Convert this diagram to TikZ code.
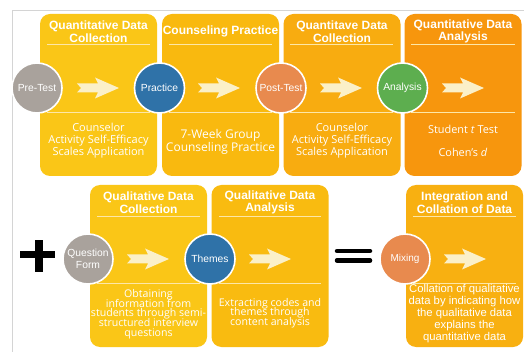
\documentclass[tikz,border=0pt]{standalone}
\usepackage{fontspec}
\setmainfont{Liberation Sans}
\newfontfamily\bodyfont{Open Sans}
\newcommand\denselines{\lineskiplimit-100pt\relax\lineskip0pt\relax}
\definecolor{frame}{HTML}{D4D4D4}
\definecolor{boxA}{HTML}{FAC617}
\definecolor{boxB}{HTML}{F9B90F}
\definecolor{boxC}{HTML}{F8AC10}
\definecolor{boxD}{HTML}{F7960D}
\definecolor{boxE}{HTML}{F9BB10}
\definecolor{boxF}{HTML}{F8B011}
\definecolor{divline}{HTML}{FDE7A8}
\definecolor{arrowfill}{HTML}{FBF0C8}
\definecolor{cgray}{HTML}{A9A29C}
\definecolor{cblue}{HTML}{2F72A8}
\definecolor{corange}{HTML}{E88A4E}
\definecolor{cgreen}{HTML}{5DAE4F}
\tikzset{
  panel/.style={rounded corners=10pt, minimum width=117pt, minimum height=162pt, inner sep=0pt},
  ptitle/.style={text=white, align=center, font=\bfseries\fontsize{12}{12.5}\selectfont, inner sep=0pt},
  divider/.style={divline, line width=0.8pt},
  stage/.style={circle, minimum size=50pt, inner sep=0pt, draw=white, line width=1.6pt,
    text=white, align=center, font=\fontsize{10.3}{12}\selectfont},
  ptext/.style={text=white, align=center, inner sep=0pt},
  tightlines/.style={font={\bodyfont\fontsize{#1}{9.7}\selectfont\denselines}},
  pics/blockarrow/.style={code={
    \fill[arrowfill] (-21,-4.5) -- (0,-4.5) -- (-3,-10.5) -- (21,0) -- (-3,10.5)
      -- (0,4.5) -- (-21,4.5) -- (-17,0) -- cycle;}}
}
\begin{document}
\begin{tikzpicture}[x=1pt,y=-1pt]
\useasboundingbox (0,0) rectangle (524,352);
\fill[white] (0,0) rectangle (524,352);
\draw[frame, line width=0.8pt] (12,352) -- (12,10) -- (524,10);

% ---- quantitative strand: panels ----
\node[panel, fill=boxA] (p1) at (98.5,95) {};
\node[panel, fill=boxB] (p2) at (220.5,95) {};
\node[panel, fill=boxC] (p3) at (342,95) {};
\node[panel, fill=boxD] (p4) at (463,95) {};

\node[ptitle] (t1) at (98.5,31.5) {Quantitative Data\\Collection};
\node[ptitle] (t2) at (220.5,31.5) {Counseling Practice};
\node[ptitle] (t3) at (342,31.5) {Quantitave Data\\Collection};
\node[ptitle] (t4) at (463,31.5) {Quantitative Data\\Analysis};

\foreach \xa/\xb in {47/150, 169/272, 290/393, 411/515}{
  \draw[divider] (\xa,44) -- (\xb,44);
  \draw[divider] (\xa,112) -- (\xb,112);
}

\pic at (98,88) {blockarrow};
\pic at (219,88) {blockarrow};
\pic at (341,88) {blockarrow};
\pic at (463,88) {blockarrow};

\node[stage, fill=cgray] (pre) at (37,88) {Pre-Test};
\node[stage, fill=cblue] (practice) at (159.5,88) {Practice};
\node[stage, fill=corange] (post) at (281,88) {Post-Test};
\node[stage, fill=cgreen] (analysis) at (402.5,88) {Analysis};

\node[ptext, font=\bodyfont\fontsize{11}{12}\selectfont] (d1) at (98.5,141)
  {Counselor\\Activity Self-Efficacy\\Scales Application};
\node[ptext, font=\bodyfont\fontsize{12}{13}\selectfont] (d2) at (220.5,142)
  {7-Week Group\\Counseling Practice};
\node[ptext, font=\bodyfont\fontsize{11}{12}\selectfont] (d3) at (342,141)
  {Counselor\\Activity Self-Efficacy\\Scales Application};
\node[ptext, font=\bodyfont\fontsize{10.9}{12}\selectfont] (d4a) at (463,129)
  {Student \textit{t} Test};
\node[ptext, font=\bodyfont\fontsize{10.9}{12}\selectfont] (d4b) at (463,152)
  {Cohen’s \textit{d}};

% ---- qualitative strand: panels ----
\node[panel, fill=boxA] (p5) at (148.5,266) {};
\node[panel, fill=boxE] (p6) at (270,266) {};
\node[panel, fill=boxF] (p7) at (464.5,266) {};

\node[ptitle] (t5) at (148.5,202.5) {Qualitative Data\\Collection};
\node[ptitle] (t6) at (270,202.5) {Qualitative Data\\Analysis};
\node[ptitle] (t7) at (464.5,202.5) {Integration and\\Collation of Data};

\foreach \xa/\xb in {97/200, 219/321, 413/516}{
  \draw[divider] (\xa,216) -- (\xb,216);
  \draw[divider] (\xa,283) -- (\xb,283);
}

\pic at (148,259) {blockarrow};
\pic at (270,259) {blockarrow};
\pic at (465,259) {blockarrow};

\node[stage, fill=cgray] (form) at (88,259) {Question\\Form};
\node[stage, fill=cblue] (themes) at (210,259) {Themes};
\node[stage, fill=corange, font=\fontsize{10}{12}\selectfont] (mixing) at (405,259) {Mixing};

\node[ptext, tightlines=10.6] (d5) at (148.5,314)
  {Obtaining\\information from\\students through semi-\\structured interview\\questions};
\node[ptext, tightlines=10.6] (d6) at (270,313)
  {Extracting codes and\\themes through\\content analysis};
\node[ptext, font=\fontsize{11.3}{12}\selectfont] (d7) at (464.5,314)
  {Collation of qualitative\\data by indicating how\\the qualitative data\\explains the\\quantitative data};

% ---- plus and equals signs ----
\fill[black] (20,251) rectangle (55,258.5);
\fill[black] (34.5,240) rectangle (42.5,272);
\draw[black, line width=4.5pt, line cap=round] (337,251) -- (370,251);
\draw[black, line width=4.5pt, line cap=round] (337,260.5) -- (370,260.5);
\end{tikzpicture}
\end{document}
